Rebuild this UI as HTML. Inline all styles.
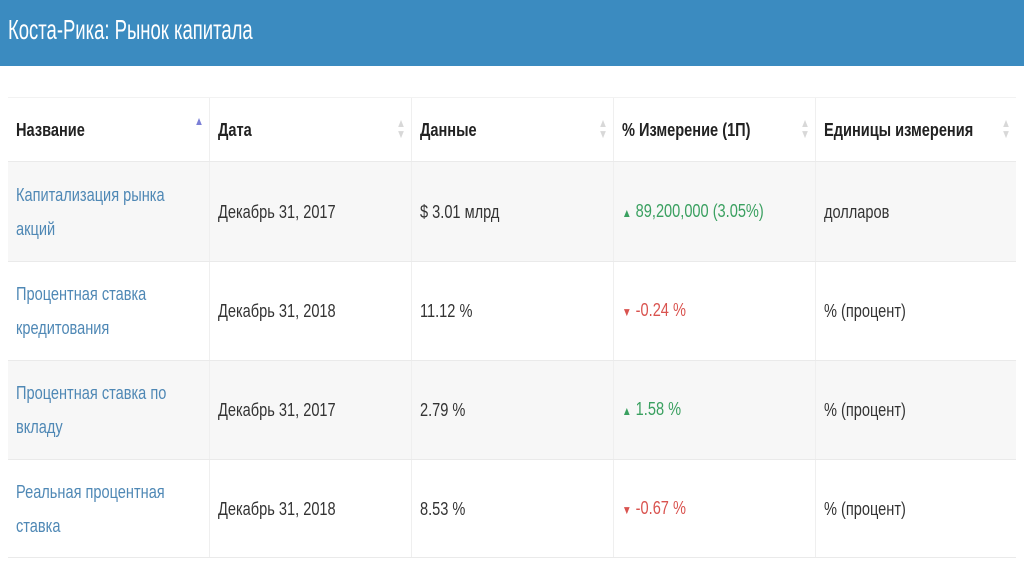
<!DOCTYPE html>
<html><head><meta charset="utf-8"><style>
*{margin:0;padding:0;box-sizing:border-box}
body{width:1024px;height:574px;background:#fff;font-family:"Liberation Sans",sans-serif;position:relative;overflow:hidden}
.hd{position:absolute;left:0;top:0;width:1024px;height:66px;background:#3b8bc0}
.hd span{position:absolute;left:8px;top:14px;font-size:28px;color:#fff;white-space:nowrap;transform:scaleX(.66);transform-origin:left}
.row{position:absolute;left:8px;width:1008px;border-bottom:1px solid #eaeaea}
.c{position:absolute;top:0;height:100%;border-right:1px solid #efefef;display:flex;align-items:center;padding-left:8px}
.t{display:inline-block;white-space:nowrap;transform:scaleX(.81);transform-origin:left;font-size:18px;color:#333;line-height:34px}
.h .t{font-weight:bold;color:#222}
.lk{color:#4f88b5}
.g{color:#3aa060}.r{color:#d9534f}
.s{position:absolute;right:4px;top:20px;font-size:12px;color:#d8d8d8;line-height:11px;text-align:center;transform:scaleX(.8)}
</style></head><body>
<div class="hd"><span>Коста-Рика: Рынок капитала</span></div>
<div class="row h" style="top:97px;height:65px;border-top:1px solid #f2f2f2">
<div class="c" style="left:0;width:202px"><span class="t">Название</span><div class="s" style="color:#7b7fd6;top:18px">▲</div></div>
<div class="c" style="left:202px;width:202px"><span class="t">Дата</span><div class="s">▲<br>▼</div></div>
<div class="c" style="left:404px;width:202px"><span class="t">Данные</span><div class="s">▲<br>▼</div></div>
<div class="c" style="left:606px;width:202px"><span class="t">% Измерение (1П)</span><div class="s">▲<br>▼</div></div>
<div class="c" style="left:808px;width:200px;border-right:none"><span class="t">Единицы измерения</span><div class="s">▲<br>▼</div></div>
</div>
<div class="row" style="top:162px;height:100px;background:#f7f7f7">
<div class="c" style="left:0;width:202px"><span class="t lk">Капитализация рынка<br>акций</span></div>
<div class="c" style="left:202px;width:202px"><span class="t">Декабрь 31, 2017</span></div>
<div class="c" style="left:404px;width:202px"><span class="t">$ 3.01 млрд</span></div>
<div class="c" style="left:606px;width:202px"><span class="t g"><small style="font-size:12px">▲</small> 89,200,000 (3.05%)</span></div>
<div class="c" style="left:808px;width:200px;border-right:none"><span class="t">долларов</span></div>
</div>
<div class="row" style="top:262px;height:99px;background:#fff">
<div class="c" style="left:0;width:202px"><span class="t lk">Процентная ставка<br>кредитования</span></div>
<div class="c" style="left:202px;width:202px"><span class="t">Декабрь 31, 2018</span></div>
<div class="c" style="left:404px;width:202px"><span class="t">11.12 %</span></div>
<div class="c" style="left:606px;width:202px"><span class="t r"><small style="font-size:12px">▼</small> -0.24 %</span></div>
<div class="c" style="left:808px;width:200px;border-right:none"><span class="t">% (процент)</span></div>
</div>
<div class="row" style="top:361px;height:99px;background:#f7f7f7">
<div class="c" style="left:0;width:202px"><span class="t lk">Процентная ставка по<br>вкладу</span></div>
<div class="c" style="left:202px;width:202px"><span class="t">Декабрь 31, 2017</span></div>
<div class="c" style="left:404px;width:202px"><span class="t">2.79 %</span></div>
<div class="c" style="left:606px;width:202px"><span class="t g"><small style="font-size:12px">▲</small> 1.58 %</span></div>
<div class="c" style="left:808px;width:200px;border-right:none"><span class="t">% (процент)</span></div>
</div>
<div class="row" style="top:460px;height:98px;background:#fff">
<div class="c" style="left:0;width:202px"><span class="t lk">Реальная процентная<br>ставка</span></div>
<div class="c" style="left:202px;width:202px"><span class="t">Декабрь 31, 2018</span></div>
<div class="c" style="left:404px;width:202px"><span class="t">8.53 %</span></div>
<div class="c" style="left:606px;width:202px"><span class="t r"><small style="font-size:12px">▼</small> -0.67 %</span></div>
<div class="c" style="left:808px;width:200px;border-right:none"><span class="t">% (процент)</span></div>
</div>
</body></html>
